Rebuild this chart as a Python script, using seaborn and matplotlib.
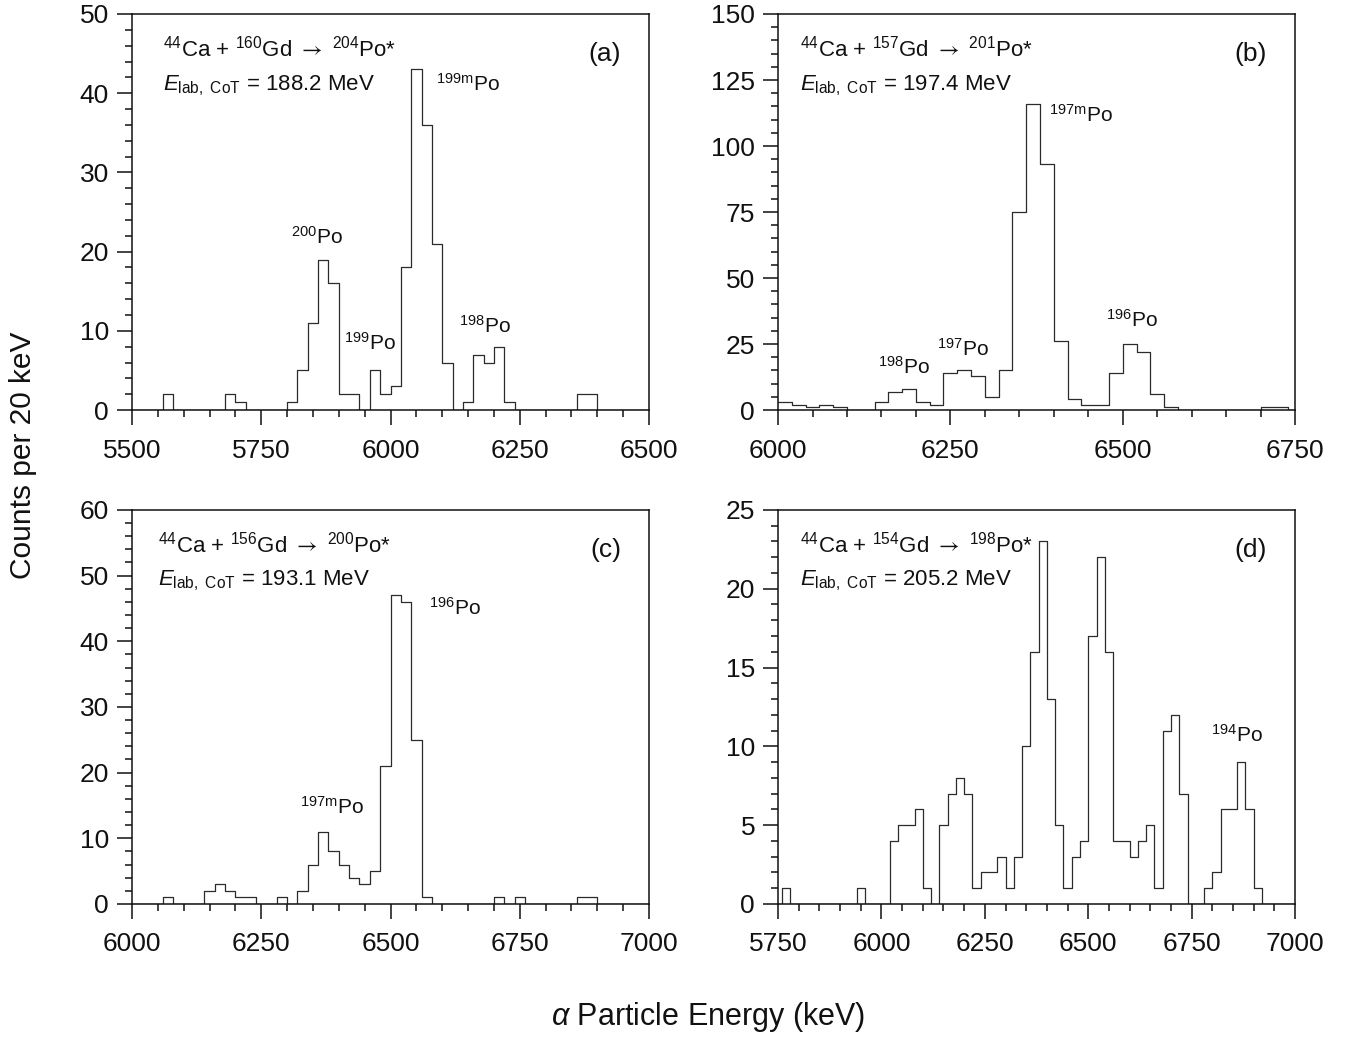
import numpy as np
import pandas as pd
import matplotlib
matplotlib.use("Agg")
import matplotlib.pyplot as plt
from matplotlib.ticker import MultipleLocator
import seaborn as sns

# ---------------------------------------------------------------------------
# Alpha-particle spectra, 20 keV bins (counts per bin, starting at *_first_bin)
# ---------------------------------------------------------------------------
BIN_WIDTH = 20  # keV

ARROW = r"$\mathsf{\rightarrow}$"

# (a) 44Ca + 160Gd -> 204Po*, E = 188.2 MeV
a_first_bin = 5500
a_counts = [0, 0, 0, 2, 0, 0, 0, 0, 0, 2, 1, 0, 0, 0, 0, 1, 5, 11, 19, 16,
            2, 2, 0, 5, 2, 3, 18, 43, 36, 21, 6, 0, 1, 7, 6, 8, 1, 0, 0, 0,
            0, 0, 0, 2, 2, 0, 0, 0, 0, 0]
a_reaction = r"$^{44}$Ca + $^{160}$Gd " + ARROW + r" $^{204}$Po*"
a_energy = r"$E_{\mathrm{lab,\ CoT}}$ = 188.2 MeV"
a_peaks = [r"$^{200}$Po", r"$^{199}$Po", r"$^{199\mathrm{m}}$Po", r"$^{198}$Po"]

# (b) 44Ca + 157Gd -> 201Po*, E = 197.4 MeV
b_first_bin = 6000
b_counts = [3, 2, 1, 2, 1, 0, 0, 3, 7, 8, 3, 2, 14, 15, 13, 5, 15, 75, 116, 93,
            26, 4, 2, 2, 14, 25, 22, 6, 1, 0, 0, 0, 0, 0, 0, 1, 1, 0]
b_reaction = r"$^{44}$Ca + $^{157}$Gd " + ARROW + r" $^{201}$Po*"
b_energy = r"$E_{\mathrm{lab,\ CoT}}$ = 197.4 MeV"
b_peaks = [r"$^{198}$Po", r"$^{197}$Po", r"$^{197\mathrm{m}}$Po", r"$^{196}$Po"]

# (c) 44Ca + 156Gd -> 200Po*, E = 193.1 MeV
c_first_bin = 6000
c_counts = [0, 0, 0, 1, 0, 0, 0, 2, 3, 2, 1, 1, 0, 0, 1, 0, 2, 6, 11, 8,
            6, 4, 3, 5, 21, 47, 46, 25, 1, 0, 0, 0, 0, 0, 0, 1, 0, 1, 0, 0,
            0, 0, 0, 1, 1, 0, 0, 0, 0, 0]
c_reaction = r"$^{44}$Ca + $^{156}$Gd " + ARROW + r" $^{200}$Po*"
c_energy = r"$E_{\mathrm{lab,\ CoT}}$ = 193.1 MeV"
c_peaks = [r"$^{197\mathrm{m}}$Po", r"$^{196}$Po"]

# (d) 44Ca + 154Gd -> 198Po*, E = 205.2 MeV
d_first_bin = 5740
d_counts = [0, 1, 0, 0, 0, 0, 0, 0, 0, 0, 1, 0, 0, 0,
            4, 5, 5, 6, 1, 0, 5, 7, 8, 7, 1, 2, 2, 3, 1, 3, 10, 16, 23, 13,
            5, 1, 3, 4, 17, 22, 16, 4, 4, 3, 4, 5, 1, 11, 12, 7, 0, 0, 1, 2,
            6, 6, 9, 6, 1, 0, 0, 0, 0]
d_reaction = r"$^{44}$Ca + $^{154}$Gd " + ARROW + r" $^{198}$Po*"
d_energy = r"$E_{\mathrm{lab,\ CoT}}$ = 205.2 MeV"
d_peaks = [r"$^{194}$Po"]

# ---------------------------------------------------------------------------
sns.set_style("ticks")
plt.rcParams["font.family"] = ["Liberation Sans", "DejaVu Sans"]
plt.rcParams["mathtext.fontset"] = "custom"
plt.rcParams["mathtext.rm"] = "Liberation Sans"
plt.rcParams["mathtext.it"] = "Liberation Sans:italic"
plt.rcParams["mathtext.bf"] = "Liberation Sans:bold"
plt.rcParams["mathtext.sf"] = "STIXGeneral"  # thin, long reaction arrow

INK = "#111111"
LINE = "#2b2b2b"

fig = plt.figure(figsize=(13.51, 10.37), dpi=100)

panels = [
    dict(tag="(a)", counts=a_counts, first=a_first_bin, reaction=a_reaction,
         energy=a_energy, peaks=a_peaks,
         peak_xy=[(5858, 21.0), (5961, 7.6), (6150, 40.3), (6183, 9.7)],
         xlim=(5500, 6500), ylim=(0, 50), xmaj=250, xmin=50, ymaj=10, ymin=2,
         rect=[0.0977, 0.6046, 0.3827, 0.3819], text_x=0.060),
    dict(tag="(b)", counts=b_counts, first=b_first_bin, reaction=b_reaction,
         energy=b_energy, peaks=b_peaks,
         peak_xy=[(6183, 13.8), (6268, 20.5), (6440, 109), (6514, 31.4)],
         xlim=(6000, 6750), ylim=(0, 150), xmaj=250, xmin=50, ymaj=25, ymin=5,
         rect=[0.5759, 0.6046, 0.3827, 0.3819], text_x=0.043),
    dict(tag="(c)", counts=c_counts, first=c_first_bin, reaction=c_reaction,
         energy=c_energy, peaks=c_peaks,
         peak_xy=[(6386, 13.7), (6624, 44.1)],
         xlim=(6000, 7000), ylim=(0, 60), xmaj=250, xmin=50, ymaj=10, ymin=2,
         rect=[0.0977, 0.1283, 0.3827, 0.3800], text_x=0.050),
    dict(tag="(d)", counts=d_counts, first=d_first_bin, reaction=d_reaction,
         energy=d_energy, peaks=d_peaks,
         peak_xy=[(6860, 10.3)],
         xlim=(5750, 7000), ylim=(0, 25), xmaj=250, xmin=50, ymaj=5, ymin=1,
         rect=[0.5759, 0.1283, 0.3827, 0.3800], text_x=0.043),
]

for p in panels:
    ax = fig.add_axes(p["rect"])
    counts = np.asarray(p["counts"], dtype=float)
    n_bins = len(counts)
    lo = p["first"]
    hi = p["first"] + BIN_WIDTH * n_bins
    df = pd.DataFrame({
        "energy": lo + BIN_WIDTH * (np.arange(n_bins) + 0.5),
        "counts": counts,
    })

    sns.histplot(data=df, x="energy", weights="counts",
                 binwidth=BIN_WIDTH, binrange=(lo, hi),
                 element="step", fill=False, color=LINE, linewidth=0.9,
                 ax=ax, zorder=2)

    ax.set_xlim(*p["xlim"])
    ax.set_ylim(*p["ylim"])
    ax.set_xlabel("")
    ax.set_ylabel("")
    ax.xaxis.set_major_locator(MultipleLocator(p["xmaj"]))
    ax.xaxis.set_minor_locator(MultipleLocator(p["xmin"]))
    ax.yaxis.set_major_locator(MultipleLocator(p["ymaj"]))
    ax.yaxis.set_minor_locator(MultipleLocator(p["ymin"]))
    ax.tick_params(which="both", direction="out", colors=INK, width=1.1,
                   top=False, right=False)
    ax.tick_params(which="major", length=10.5, labelsize=19)
    ax.tick_params(axis="x", which="major", pad=10)
    ax.tick_params(axis="y", which="major", pad=6)
    ax.tick_params(which="minor", length=5)
    for side in ["top", "right", "bottom", "left"]:
        ax.spines[side].set_visible(True)
        ax.spines[side].set_linewidth(1.1)
        ax.spines[side].set_color(INK)
        ax.spines[side].set_zorder(3)

    ax.text(p["text_x"], 0.893, p["reaction"], transform=ax.transAxes,
            ha="left", va="baseline", fontsize=16, color=INK)
    ax.text(p["text_x"], 0.808, p["energy"], transform=ax.transAxes,
            ha="left", va="baseline", fontsize=16, color=INK)
    ax.text(0.946, 0.898, p["tag"], transform=ax.transAxes,
            ha="right", va="center", fontsize=19, color=INK)

    for label, (px, py) in zip(p["peaks"], p["peak_xy"]):
        ax.text(px, py, label, ha="center", va="baseline", fontsize=15,
                color=INK)

fig.text(0.017, 0.561, "Counts per 20 keV", rotation=90, ha="center",
         va="center", fontsize=21.5, color=INK)
fig.text(0.524, 0.019, r"$\alpha$ Particle Energy (keV)", ha="center",
         va="center", fontsize=22, color=INK)

fig.savefig("out.png", dpi=100)
